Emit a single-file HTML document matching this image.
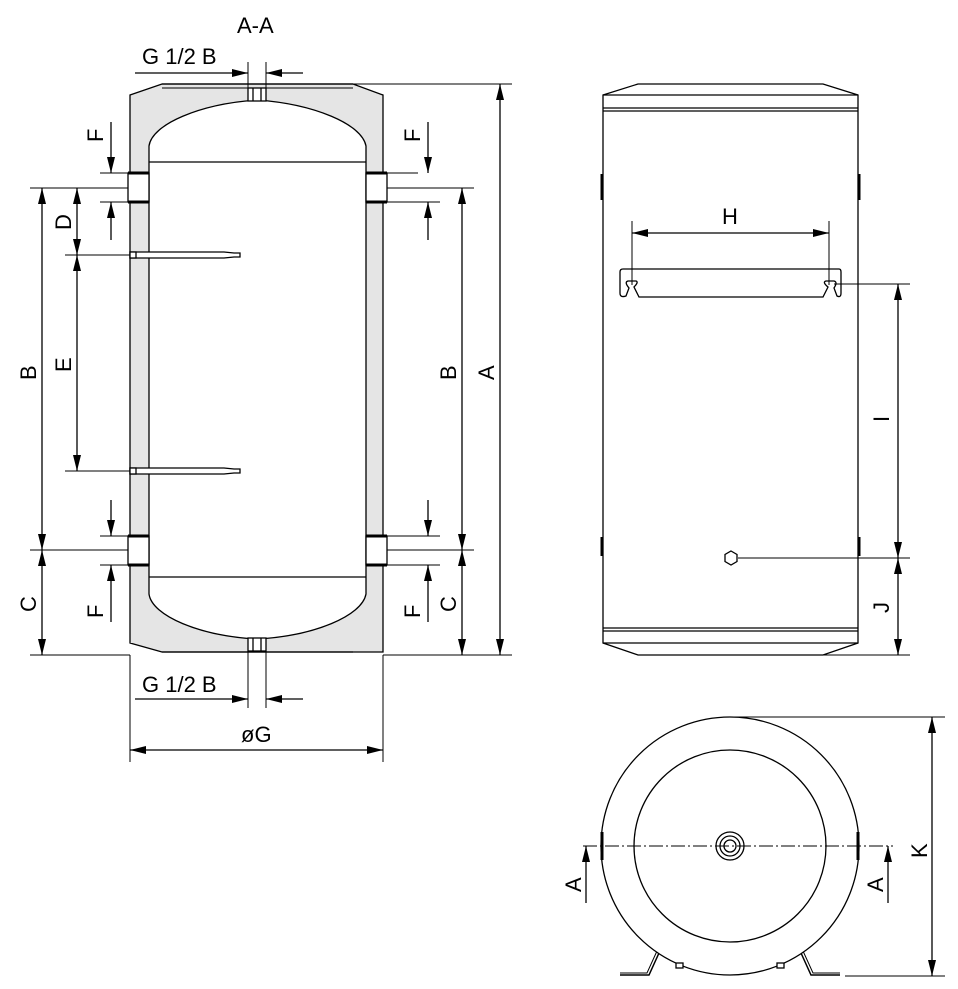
<!DOCTYPE html>
<html><head><meta charset="utf-8"><style>
html,body{margin:0;padding:0;background:#fff;}
svg{display:block;}
text{font-family:"Liberation Sans",Arial,sans-serif;font-size:22px;fill:#000;}
</style></head><body>
<svg width="958" height="989" viewBox="0 0 958 989" xmlns="http://www.w3.org/2000/svg">
<defs>
<marker id="ar" viewBox="0 0 16 8" refX="16" refY="4" markerWidth="16" markerHeight="8" markerUnits="userSpaceOnUse" orient="auto-start-reverse">
<path d="M0,0 L16,4 L0,8 Z" fill="#000"/></marker>
</defs>
<g stroke="#000" stroke-width="1.3" fill="none">
<path fill="#e5e5e5" fill-rule="evenodd" d="M130,95 L162,84 L353,84 L383,95 L383,652 L353,652 L162,652 L130,643 Z
M149,162 V146 C152,124 200,104 257,100 C314,104 362,124 366,146 V577 V594 C362,616 314,636 257,639 C200,636 152,616 149,594 Z"/>
<line x1="162" y1="84" x2="353" y2="84"/>
<line x1="162" y1="88" x2="353" y2="88" stroke-width="1"/>
<line x1="162" y1="652" x2="353" y2="652"/>
<line x1="149" y1="162" x2="366" y2="162"/>
<line x1="149" y1="577" x2="366" y2="577"/>
<rect x="248" y="88" width="18" height="13" fill="#fff"/>
<rect x="248" y="638" width="18" height="13" fill="#fff"/>
<line x1="253" y1="88" x2="253" y2="101"/><line x1="261" y1="88" x2="261" y2="101"/>
<line x1="253" y1="638" x2="253" y2="651"/><line x1="261" y1="638" x2="261" y2="651"/>
<rect x="128" y="173" width="21" height="29" fill="#fff"/>
<rect x="366" y="173" width="21" height="29" fill="#fff"/>
<rect x="128" y="536" width="21" height="29" fill="#fff"/>
<rect x="366" y="536" width="21" height="29" fill="#fff"/>
<g stroke-width="3"><line x1="128" y1="173" x2="149" y2="173"/><line x1="128" y1="202" x2="149" y2="202"/>
<line x1="366" y1="173" x2="387" y2="173"/><line x1="366" y1="202" x2="387" y2="202"/>
<line x1="128" y1="536" x2="149" y2="536"/><line x1="128" y1="565" x2="149" y2="565"/>
<line x1="366" y1="536" x2="387" y2="536"/><line x1="366" y1="565" x2="387" y2="565"/></g>
<path d="M130,252 H224 L234,253 H240 V257 H234 L224,258 H130 Z" fill="#fff"/>
<rect x="130" y="252" width="6" height="6" fill="#fff"/>
<path d="M130,468 H224 L234,469 H240 V473 H234 L224,474 H130 Z" fill="#fff"/>
<rect x="130" y="468" width="6" height="6" fill="#fff"/>
<line x1="30" y1="188" x2="128" y2="188" stroke-width="1"/>
<line x1="30" y1="550" x2="128" y2="550" stroke-width="1"/>
<line x1="30" y1="655" x2="130" y2="655" stroke-width="1"/>
<line x1="65" y1="255" x2="130" y2="255" stroke-width="1"/>
<line x1="65" y1="471" x2="130" y2="471" stroke-width="1"/>
<line x1="100" y1="173" x2="128" y2="173" stroke-width="1"/>
<line x1="100" y1="202" x2="128" y2="202" stroke-width="1"/>
<line x1="100" y1="536" x2="128" y2="536" stroke-width="1"/>
<line x1="100" y1="565" x2="128" y2="565" stroke-width="1"/>
<line x1="42" y1="188" x2="42" y2="550" marker-start="url(#ar)" marker-end="url(#ar)"/>
<line x1="42" y1="550" x2="42" y2="655" marker-start="url(#ar)" marker-end="url(#ar)"/>
<line x1="77" y1="188" x2="77" y2="255" marker-start="url(#ar)" marker-end="url(#ar)"/>
<line x1="77" y1="255" x2="77" y2="471" marker-start="url(#ar)" marker-end="url(#ar)"/>
<line x1="111" y1="122" x2="111" y2="173" marker-end="url(#ar)"/>
<line x1="111" y1="240" x2="111" y2="202" marker-end="url(#ar)"/>
<line x1="111" y1="500" x2="111" y2="536" marker-end="url(#ar)"/>
<line x1="111" y1="622" x2="111" y2="565" marker-end="url(#ar)"/>
<line x1="387" y1="173" x2="418" y2="173" stroke-width="1"/>
<line x1="387" y1="202" x2="440" y2="202" stroke-width="1"/>
<line x1="387" y1="188" x2="474" y2="188" stroke-width="1"/>
<line x1="387" y1="536" x2="440" y2="536" stroke-width="1"/>
<line x1="387" y1="565" x2="440" y2="565" stroke-width="1"/>
<line x1="387" y1="550" x2="474" y2="550" stroke-width="1"/>
<line x1="353" y1="84" x2="512" y2="84" stroke-width="1"/>
<line x1="383" y1="655" x2="512" y2="655" stroke-width="1"/>
<line x1="428" y1="122" x2="428" y2="173" marker-end="url(#ar)"/>
<line x1="428" y1="240" x2="428" y2="202" marker-end="url(#ar)"/>
<line x1="428" y1="500" x2="428" y2="536" marker-end="url(#ar)"/>
<line x1="428" y1="622" x2="428" y2="565" marker-end="url(#ar)"/>
<line x1="462" y1="188" x2="462" y2="550" marker-start="url(#ar)" marker-end="url(#ar)"/>
<line x1="462" y1="550" x2="462" y2="655" marker-start="url(#ar)" marker-end="url(#ar)"/>
<line x1="500" y1="84" x2="500" y2="655" marker-start="url(#ar)" marker-end="url(#ar)"/>
<line x1="248" y1="62" x2="248" y2="88" stroke-width="1"/>
<line x1="266" y1="62" x2="266" y2="88" stroke-width="1"/>
<line x1="135" y1="73" x2="248" y2="73" marker-end="url(#ar)"/>
<line x1="303" y1="73" x2="266" y2="73" marker-end="url(#ar)"/>
<line x1="248" y1="651" x2="248" y2="708" stroke-width="1"/>
<line x1="266" y1="651" x2="266" y2="708" stroke-width="1"/>
<line x1="130" y1="655" x2="130" y2="762" stroke-width="1"/>
<line x1="383" y1="655" x2="383" y2="762" stroke-width="1"/>
<line x1="135" y1="699" x2="248" y2="699" marker-end="url(#ar)"/>
<line x1="303" y1="699" x2="266" y2="699" marker-end="url(#ar)"/>
<line x1="130" y1="750" x2="383" y2="750" marker-start="url(#ar)" marker-end="url(#ar)"/>

<path d="M603,95 L638,84 L823,84 L858,95 V643 L823,655 H638 L603,643 Z" fill="#fff"/>
<line x1="603" y1="95" x2="858" y2="95"/>
<line x1="603" y1="108" x2="858" y2="108"/>
<line x1="603" y1="111" x2="858" y2="111"/>
<line x1="603" y1="628" x2="858" y2="628"/>
<line x1="603" y1="631" x2="858" y2="631"/>
<line x1="603" y1="643" x2="858" y2="643"/>
<g stroke-width="3"><line x1="602" y1="174" x2="602" y2="200"/><line x1="859" y1="174" x2="859" y2="200"/>
<line x1="602" y1="537" x2="602" y2="556"/><line x1="859" y1="537" x2="859" y2="556"/></g>
<path d="M623,269 H839 Q841,269 841,272 V293 Q841,298 837,296 L834,288 Q838,282 834,281 H826 Q822,282 828,287 L823,297 H639 L634,287 Q639,282 636,281 H628 Q624,282 629,288 L626,296 Q620,298 620,293 V272 Q620,269 623,269 Z"/>
<line x1="632" y1="221" x2="632" y2="285" stroke-width="1"/>
<line x1="829" y1="221" x2="829" y2="285" stroke-width="1"/>
<line x1="632" y1="233" x2="829" y2="233" marker-start="url(#ar)" marker-end="url(#ar)"/>
<line x1="834" y1="284" x2="910" y2="284" stroke-width="1"/>
<line x1="738" y1="558" x2="910" y2="558" stroke-width="1"/>
<line x1="823" y1="655" x2="910" y2="655" stroke-width="1"/>
<line x1="898" y1="284" x2="898" y2="558" marker-start="url(#ar)" marker-end="url(#ar)"/>
<line x1="898" y1="558" x2="898" y2="655" marker-start="url(#ar)" marker-end="url(#ar)"/>
<path d="M731,551 L737,554.5 V561.5 L731,565 L725,561.5 V554.5 Z" fill="#fff"/>

<path d="M620,975 H649 L659,953 M840,975 H811 L801,953" stroke-width="1.5"/>
<path d="M620,973 H647 L657,951 M840,973 H813 L803,951" stroke-width="1"/>
<circle cx="730" cy="846" r="129" fill="#fff"/>
<circle cx="730" cy="846" r="96"/>
<circle cx="730" cy="846" r="14"/>
<circle cx="730" cy="846" r="10"/>
<circle cx="730" cy="846" r="6"/>
<g stroke-width="3"><line x1="602" y1="832" x2="602" y2="860"/><line x1="858" y1="832" x2="858" y2="860"/></g>
<rect x="676" y="963" width="7" height="5" fill="#fff"/><rect x="777" y="963" width="7" height="5" fill="#fff"/>
<line x1="583" y1="846" x2="893" y2="846" stroke-width="1" stroke-dasharray="14,3,2,3"/>
<line x1="586" y1="903" x2="586" y2="846" marker-end="url(#ar)"/>
<line x1="888" y1="903" x2="888" y2="846" marker-end="url(#ar)"/>
<line x1="730" y1="717" x2="945" y2="717" stroke-width="1"/>
<line x1="845" y1="976" x2="945" y2="976" stroke-width="1"/>
<line x1="932" y1="717" x2="932" y2="976" marker-start="url(#ar)" marker-end="url(#ar)"/>
</g>
<text x="237" y="33">A-A</text>
<text x="142" y="64">G 1/2 B</text>
<text x="142" y="692">G 1/2 B</text>
<text x="241" y="742">øG</text>
<text x="722" y="224">H</text>
<g>
<text transform="translate(103,142) rotate(-90)">F</text>
<text transform="translate(71,230) rotate(-90)">D</text>
<text transform="translate(71,372) rotate(-90)">E</text>
<text transform="translate(36,380) rotate(-90)">B</text>
<text transform="translate(36,612) rotate(-90)">C</text>
<text transform="translate(103,618) rotate(-90)">F</text>
<text transform="translate(420,142) rotate(-90)">F</text>
<text transform="translate(420,618) rotate(-90)">F</text>
<text transform="translate(456,380) rotate(-90)">B</text>
<text transform="translate(456,612) rotate(-90)">C</text>
<text transform="translate(494,380) rotate(-90)">A</text>
<text transform="translate(889,422) rotate(-90)">I</text>
<text transform="translate(889,613) rotate(-90)">J</text>
<text transform="translate(581,892) rotate(-90)">A</text>
<text transform="translate(883,892) rotate(-90)">A</text>
<text transform="translate(927,858) rotate(-90)">K</text>
</g>
</svg>
</body></html>
